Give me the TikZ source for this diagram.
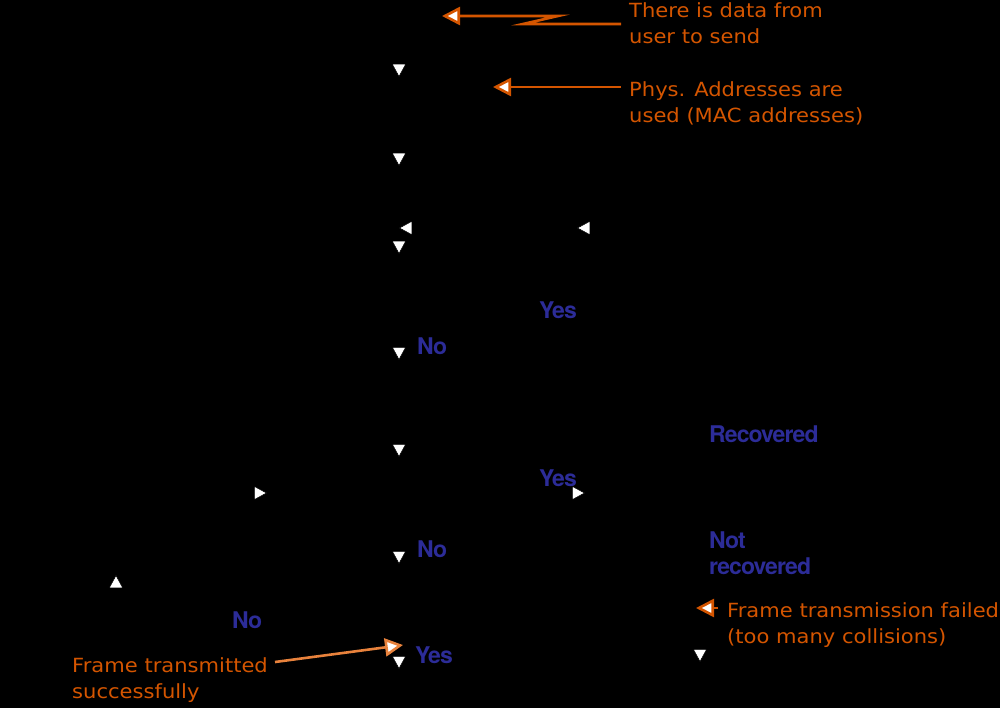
\documentclass[tikz,border=0pt]{standalone}
\usepackage{fontspec}
\usetikzlibrary{arrows.meta}
\newfontfamily\notefont[FakeStretch=1.08]{DejaVu Sans}
\newfontfamily\lblfont[LetterSpace=-4]{TeX Gyre Heros}
\definecolor{noteorange}{RGB}{212,85,0}
\definecolor{notelight}{RGB}{232,130,60}
\definecolor{lblblue}{RGB}{44,44,152}
\tikzset{
  flow/.style={draw=black,line width=0.5pt,-{Triangle[length=13pt,width=14pt,fill=white]}},
  note/.style={text=noteorange,font=\notefont\fontsize{19.5}{26}\selectfont,align=left,anchor=west,inner sep=0pt},
  notearrow/.style={draw=noteorange,line width=2.6pt,-{Triangle[length=18pt,width=18pt,fill=white]}},
  lbl/.style={text=lblblue,font=\lblfont\bfseries\fontsize{23}{26}\selectfont,align=left,anchor=west,inner sep=0pt},
}
\begin{document}
\begin{tikzpicture}[x=1pt,y=-1pt]
\fill[black] (0,0) rectangle (1000,708);
\useasboundingbox (0,0) rectangle (1000,708);

% ---- annotations (orange)
\node[note] (ndata) at (629,23) {There is data from\\user to send};
\node[note] (nphys) at (629,103) {Phys. Addresses are\\used (MAC addresses)};
\node[note] (nfail) at (727,625) {Frame transmission failed\\(too many collisions)};
\node[note] (nsucc) at (72,680) {Frame transmitted\\successfully};

\coordinate (dataIn) at (442,16);
\coordinate (physIn) at (493,87);
\coordinate (failIn) at (696,608);
\coordinate (succIn) at (403,645);

\draw[notearrow] (621,24) -- (523,24) -- (558,16) -- (dataIn);
\draw[notearrow] (621,87) -- (physIn);
\draw[notearrow] (718,608) -- (failIn);
\draw[notearrow,draw=notelight] (275,662) -- (succIn);

% ---- decision labels (blue)
\node[lbl] (yes1) at (539,310) {Yes};
\node[lbl] (no1) at (417,346) {No};
\node[lbl] (rec) at (709,434) {Recovered};
\node[lbl] (yes2) at (539,478) {Yes};
\node[lbl] (no2) at (417,549) {No};
\node[lbl] (notrec) at (709,553) {Not\\recovered};
\node[lbl] (no3) at (232,620) {No};
\node[lbl] (yes3) at (415,655) {Yes};

% ---- flow arrow heads (connectors are black)
\coordinate (f1a) at (399,55);  \coordinate (f1b) at (399,77);
\coordinate (f2a) at (399,145); \coordinate (f2b) at (399,166);
\coordinate (f3a) at (420,228); \coordinate (f3b) at (399,228);
\coordinate (f4a) at (598,228); \coordinate (f4b) at (577,228);
\coordinate (f5a) at (399,235); \coordinate (f5b) at (399,254);
\coordinate (f6a) at (399,340); \coordinate (f6b) at (399,360);
\coordinate (f7a) at (399,437); \coordinate (f7b) at (399,457);
\coordinate (f8a) at (246,493); \coordinate (f8b) at (267,493);
\coordinate (f9a) at (564,493); \coordinate (f9b) at (585,493);
\coordinate (f10a) at (399,544); \coordinate (f10b) at (399,564);
\coordinate (f11a) at (116,596); \coordinate (f11b) at (116,575);
\coordinate (f12a) at (399,650); \coordinate (f12b) at (399,669);
\coordinate (f13a) at (700,642); \coordinate (f13b) at (700,662);

\foreach \i in {1,...,13} {\draw[flow] (f\i a) -- (f\i b);}
\end{tikzpicture}
\end{document}
